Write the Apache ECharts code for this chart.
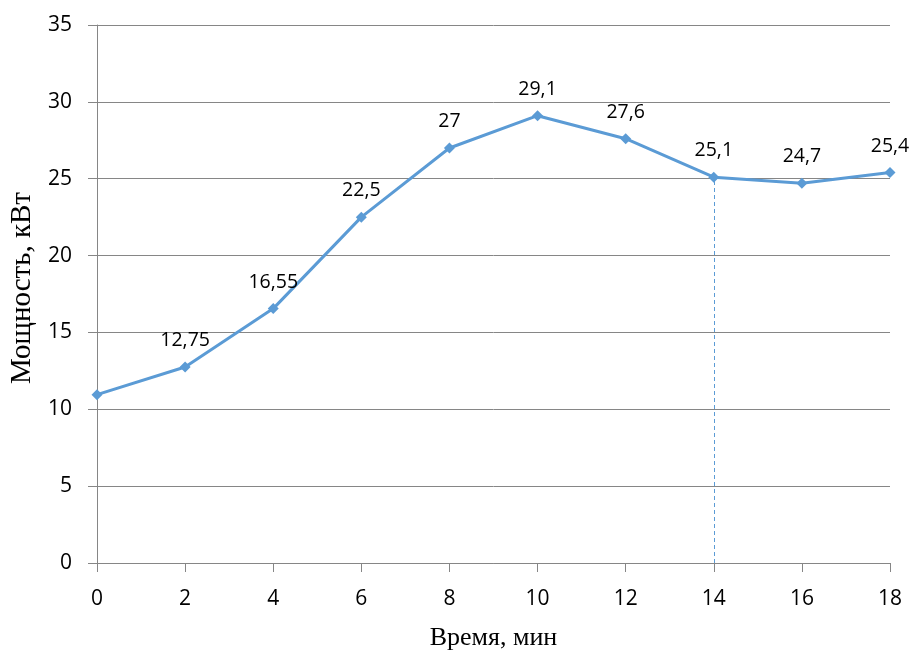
<!DOCTYPE html>
<html>
<head>
<meta charset="utf-8">
<script src="https://cdn.jsdelivr.net/npm/echarts@6/dist/echarts.min.js"></script>
<style>
  html, body { margin: 0; padding: 0; background: #fff; }
  #chart { width: 912px; height: 650px; }
</style>
</head>
<body>
<div id="chart"></div>
<script>
// Time (min) and power (kW) readings
const minutes = [0, 2, 4, 6, 8, 10, 12, 14, 16, 18];
const powerKW = [10.95, 12.75, 16.55, 22.5, 27, 29.1, 27.6, 25.1, 24.7, 25.4];
// Points whose value is printed above the marker
const labelled = [false, true, true, true, true, true, true, true, true, true];
// Moment highlighted with a vertical drop line
const markMinute = 14;

const lineColor = '#5b9bd5';
const axisGray = '#868686';

const seriesData = minutes.map((m, i) => ({
  value: [m, powerKW[i]],
  label: { show: labelled[i] }
}));
const markValue = powerKW[minutes.indexOf(markMinute)];

const chart = echarts.init(document.getElementById('chart'));
chart.setOption({
  animation: false,
  grid: { left: 97, right: 22, top: 25, bottom: 87, containLabel: false, outerBoundsMode: 'none' },
  xAxis: {
    type: 'value', min: 0, max: 18, interval: 2,
    name: 'Время, мин', nameLocation: 'middle', nameGap: 62,
    nameTextStyle: { fontFamily: 'Liberation Serif', fontSize: 26, color: '#000' },
    axisLine: { lineStyle: { color: axisGray, width: 1 } },
    axisTick: { show: true, length: 9, lineStyle: { color: axisGray } },
    axisLabel: { fontFamily: 'Open Sans', fontSize: 21, color: '#000', margin: 26 },
    splitLine: { show: false }
  },
  yAxis: {
    type: 'value', min: 0, max: 35, interval: 5,
    name: 'Мощность, кВт', nameLocation: 'middle', nameGap: 52, nameRotate: 90,
    nameTextStyle: { fontFamily: 'Liberation Serif', fontSize: 29, color: '#000', padding: [0, 0, 0, 12] },
    axisLine: { show: true, lineStyle: { color: axisGray, width: 1 } },
    axisTick: { show: true, length: 9, lineStyle: { color: axisGray } },
    axisLabel: { fontFamily: 'Open Sans', fontSize: 21, color: '#000', margin: 25 },
    splitLine: { show: true, lineStyle: { color: axisGray, width: 1 } }
  },
  series: [{
    type: 'line',
    data: seriesData,
    symbol: 'diamond',
    symbolSize: 11,
    lineStyle: { color: lineColor, width: 3 },
    itemStyle: { color: lineColor },
    label: {
      position: 'top', distance: 11,
      fontFamily: 'Open Sans', fontSize: 19.5, color: '#000',
      formatter: p => String(p.value[1]).replace('.', ',')
    },
    markLine: {
      silent: true, symbol: 'none', label: { show: false },
      emphasis: { disabled: true },
      lineStyle: { color: lineColor, type: [4, 3], width: 1, opacity: 1 },
      data: [[{ coord: [markMinute, 0] }, { coord: [markMinute, markValue] }]]
    }
  }]
});
</script>
</body>
</html>
